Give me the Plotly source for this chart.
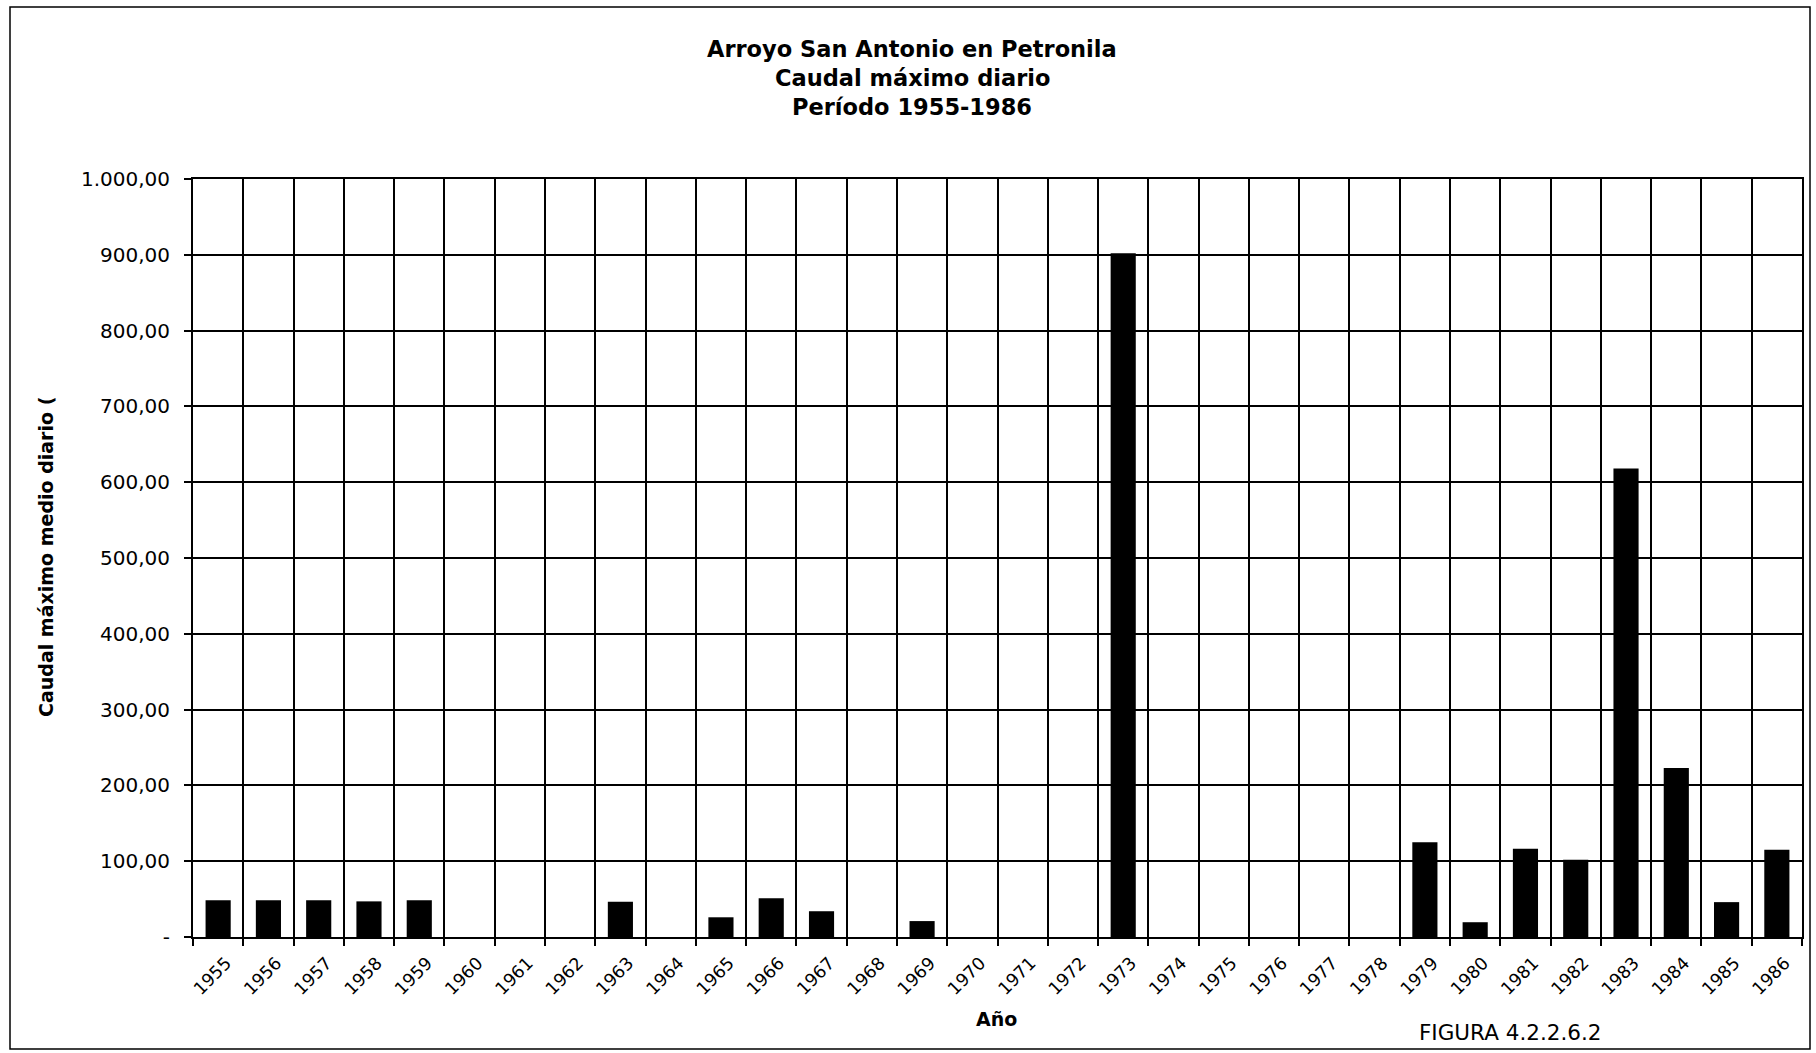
import plotly.graph_objects as go

# ---- data ----
years = [str(y) for y in range(1955, 1987)]
caudal = [48.5, 48.5, 48.5, 47.0, 48.5, None, None, None, 46.5, None,
          26.0, 51.0, 34.0, None, 21.0, None, None, None, 902.0, None,
          None, None, None, None, 125.0, 19.5, 116.5, 102.0, 618.0, 223.0,
          46.0, 115.0]
y_tickvals = [0, 100, 200, 300, 400, 500, 600, 700, 800, 900, 1000]
y_ticktext = ["-", "100,00", "200,00", "300,00", "400,00", "500,00",
              "600,00", "700,00", "800,00", "900,00", "1.000,00"]
title_lines = ["Arroyo San Antonio en Petronila",
               "Caudal máximo diario",
               "Período 1955-1986"]
x_title = "Año"
y_title = "Caudal máximo medio diario ("
figure_label = "FIGURA 4.2.2.6.2"

W, H = 1816, 1053
L, R, T, B = 193, 14, 179, 116
pw, ph = W - L - R, H - T - B
label_shift = -0.16  # year labels sit slightly right of the category centre, as in the original


def px_x(px):
    return (px - L) / pw


def px_y(py):
    return (H - B - py) / ph


fig = go.Figure()
fig.add_trace(go.Bar(x=years, y=caudal, marker=dict(color="black", line=dict(width=0)),
                     showlegend=False, name="Caudal"))
# invisible companion trace that carries the year labels on the overlay axis
fig.add_trace(go.Scatter(x=years, y=caudal, xaxis="x2", mode="markers",
                         marker=dict(opacity=0, size=1), hoverinfo="skip",
                         showlegend=False))

n = len(years)
fig.update_layout(
    width=W, height=H,
    margin=dict(l=L, r=R, t=T, b=B, autoexpand=False),
    paper_bgcolor="white", plot_bgcolor="white",
    bargap=0.5,
    font=dict(family="DejaVu Sans", color="black"),
    xaxis=dict(type="category", categoryorder="array", categoryarray=years,
               range=[-0.5, n - 0.5], tickson="boundaries",
               ticks="outside", ticklen=7, tickwidth=1.5, tickcolor="black",
               showticklabels=False,
               showgrid=True, gridcolor="black", gridwidth=1.5,
               showline=True, linecolor="black", linewidth=2, mirror=True,
               automargin=False, fixedrange=True),
    xaxis2=dict(type="category", categoryorder="array", categoryarray=years,
                overlaying="x", anchor="y", side="bottom",
                range=[-0.5 + label_shift, n - 0.5 + label_shift],
                ticks="outside", ticklen=7, tickcolor="rgba(0,0,0,0)",
                tickangle=-45, ticklabelstandoff=1,
                tickfont=dict(family="DejaVu Sans", size=17.5, color="black"),
                showgrid=False, showline=False, zeroline=False,
                automargin=False, fixedrange=True),
    yaxis=dict(range=[0, 1000], tickvals=y_tickvals, ticktext=y_ticktext,
               ticks="outside", ticklen=7, tickwidth=1.5, tickcolor="black",
               tickfont=dict(family="DejaVu Sans", size=20, color="black"),
               ticklabelstandoff=10,
               showgrid=True, gridcolor="black", gridwidth=1.5, zeroline=False,
               showline=True, linecolor="black", linewidth=2, mirror=True,
               automargin=False, fixedrange=True),
)

annotations = []
for line, py in zip(title_lines, [49, 78, 107]):
    annotations.append(dict(text=f"<b>{line}</b>", x=px_x(912), y=px_y(py),
                            xref="paper", yref="paper", xanchor="center", yanchor="middle",
                            showarrow=False,
                            font=dict(family="DejaVu Sans", size=22.5, color="black")))
annotations.append(dict(text=f"<b>{x_title}</b>", x=px_x(996), y=px_y(1019),
                        xref="paper", yref="paper", xanchor="center", yanchor="middle",
                        showarrow=False,
                        font=dict(family="DejaVu Sans", size=19, color="black")))
annotations.append(dict(text=f"<b>{y_title}</b>", x=px_x(46), y=px_y(557), textangle=-90,
                        xref="paper", yref="paper", xanchor="center", yanchor="middle",
                        showarrow=False,
                        font=dict(family="DejaVu Sans", size=19, color="black")))
annotations.append(dict(text=figure_label, x=px_x(1510), y=px_y(1032),
                        xref="paper", yref="paper", xanchor="center", yanchor="middle",
                        showarrow=False,
                        font=dict(family="DejaVu Sans", size=21.5, color="black")))
fig.update_layout(annotations=annotations)

# page frame
fig.add_shape(type="rect", xref="paper", yref="paper",
              x0=px_x(10), x1=px_x(1810), y0=px_y(1049), y1=px_y(7),
              line=dict(color="black", width=1.5), fillcolor="rgba(0,0,0,0)", layer="below")

fig.write_html("out.html", config={"displayModeBar": False},
               post_script="document.body.style.margin='0';document.body.style.overflow='hidden';")
